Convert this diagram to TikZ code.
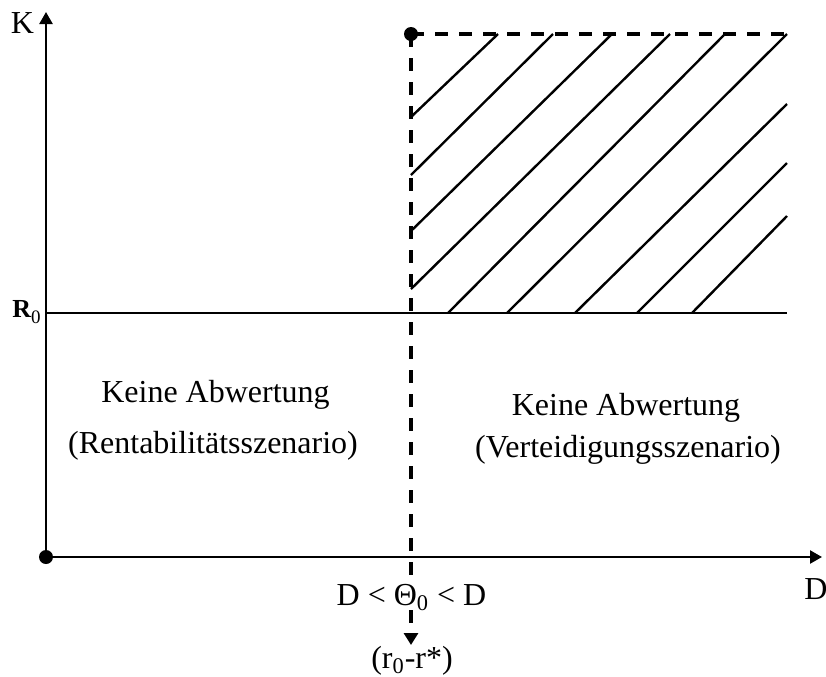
\documentclass[tikz,border=0pt]{standalone}
\usepackage{fontspec}
\setmainfont{Liberation Serif}
\usetikzlibrary{arrows.meta}

\tikzset{
  axisline/.style={line width=1.2pt, -{Triangle[length=6pt,width=6.5pt]}},
  limitline/.style={line width=1.6pt, dash pattern=on 6.5pt off 5.5pt},
  hatchline/.style={line width=1.2pt},
  dotmark/.style={circle, fill, inner sep=0pt, minimum size=7pt},
  lbl/.style={font=\fontsize{16}{19}\selectfont, inner sep=0pt, anchor=base},
  sublbl/.style={font=\fontsize{13}{15}\selectfont\bfseries, inner sep=0pt, anchor=base west}
}

\begin{document}
\begin{tikzpicture}[x=0.5pt, y=-0.5pt]
  \useasboundingbox (0,0) rectangle (826,676);

  % axes
  \coordinate (origin) at (46,557);
  \coordinate (ktip)   at (46,12);
  \coordinate (dtip)   at (822,557);
  \draw[axisline] (origin) -- (ktip);
  \draw[axisline] (origin) -- (dtip);
  \node[dotmark] (odot) at (origin) {};

  % R_0 level
  \coordinate (rleft)  at (46,313);
  \coordinate (rright) at (787,313);
  \draw[hatchline] (rleft) -- (rright);

  % threshold and upper bound
  \coordinate (theta)  at (411,34);
  \coordinate (corner) at (787,34);
  \coordinate (tbot)   at (411,645);
  \draw[limitline, -{Triangle[length=6pt,width=7pt]}] (theta) -- (tbot);
  \draw[limitline] (theta) -- (corner);
  \node[dotmark] (tdot) at (theta) {};

  % hatching
  \foreach \xa/\ya/\xb/\yb in {411/117/498/34, 411/175/553/34, 411/231/612/34,
      411/289/670/34, 448/313/725/34, 507/313/787/34, 575/313/787/104,
      637/313/787/163, 692/313/787/216}
    \draw[hatchline] (\xa,\ya) -- (\xb,\yb);

  % labels
  \node[lbl] (klbl) at (22.5,33) {K};
  \node[sublbl] (rlbl) at (12,317) {R\raisebox{-3pt}{\fontsize{9.5}{10}\mdseries\selectfont 0}};
  \node[lbl] (dlbl) at (816,599) {D};
  \node[lbl, fill=white] (thlbl) at (411.5,605) {D < Θ\textsubscript{0} < D};
  \node[lbl] (rrlbl) at (412,668) {(r\textsubscript{0}-r*)};

  \node[lbl] (leftA)  at (215.5,402) {Keine Abwertung};
  \node[lbl] (leftB)  at (213,453) {(Rentabilitätsszenario)};
  \node[lbl] (rightA) at (626,415) {Keine Abwertung};
  \node[lbl] (rightB) at (628,457) {(Verteidigungsszenario)};
\end{tikzpicture}
\end{document}
